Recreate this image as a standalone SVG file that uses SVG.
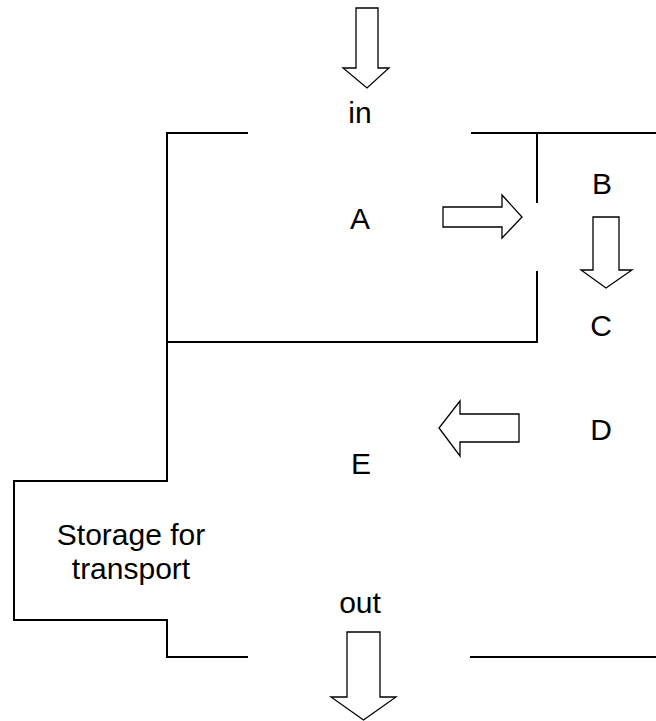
<svg xmlns="http://www.w3.org/2000/svg" width="656" height="721" viewBox="0 0 656 721">
<style>
.wall{fill:none;stroke:#000;stroke-width:2;stroke-linecap:square}
.arr{fill:#fff;stroke:#000;stroke-width:1.3;stroke-linejoin:miter}
.lbl{font-family:"Liberation Sans",Arial,sans-serif;font-size:30px;fill:#000;text-anchor:middle}
</style>
<rect width="656" height="721" fill="#fff"/>
<g id="walls">
<polyline class="wall" points="247,133 167,133 167,481 14,481 14,620 167,620 167,657 247,657"/>
<polyline class="wall" points="472,133 656,133"/>
<polyline class="wall" points="537,133 537,202"/>
<polyline class="wall" points="537,272 537,342 167,342"/>
<polyline class="wall" points="471,657 656,657"/>
</g>
<g id="connectors">
<polygon class="arr" points="356,8 378,8 378,68 389,68 367,88 343,68 356,68"/>
<polygon class="arr" points="443,207 502,207 502,195 522,217 502,238 502,227 443,227"/>
<polygon class="arr" points="593,217 619,217 619,270 632,270 606,288 581,270 593,270"/>
<polygon class="arr" points="519,414 460,414 460,401 439,428 460,456 460,442 519,442"/>
<polygon class="arr" points="347,632 380,632 380,697 396,697 363.5,720 331,697 347,697"/>
</g>
<g id="in"><text class="lbl" x="360" y="123">in</text></g>
<g id="A"><text class="lbl" x="360" y="229">A</text></g>
<g id="B"><text class="lbl" x="602" y="194">B</text></g>
<g id="C"><text class="lbl" x="601" y="336">C</text></g>
<g id="D"><text class="lbl" x="601" y="440">D</text></g>
<g id="E"><text class="lbl" x="361" y="474">E</text></g>
<g id="storage"><text class="lbl" x="131" y="545">Storage for</text><text class="lbl" x="131" y="579">transport</text></g>
<g id="out"><text class="lbl" x="360" y="613">out</text></g>
</svg>
